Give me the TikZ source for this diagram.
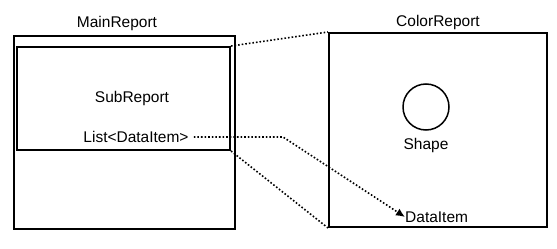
\documentclass[tikz,border=0pt]{standalone}
\usepackage{fontspec}
\setmainfont{Liberation Sans}
\usetikzlibrary{arrows.meta}
\begin{document}
\begin{tikzpicture}[x=1pt,y=-1pt,
  box/.style={draw,line width=2pt,rectangle,inner sep=0pt},
  lbl/.style={inner sep=0pt,font=\fontsize{15.5}{18}\selectfont},
  link/.style={dotted,line width=1.6pt}]
\useasboundingbox (0,0) rectangle (557,249);
\node[box,minimum width=221pt,minimum height=193pt] (main) at (124.5,132.5) {};
\node[box,minimum width=213pt,minimum height=103pt] (sub) at (123.5,98.5) {};
\node[box,minimum width=218pt,minimum height=194pt] (color) at (438,130) {};
\node[draw,circle,line width=1.5pt,minimum size=46pt,inner sep=0pt] (circ) at (426,107) {};
\node[lbl] (mainlbl) at (117,23) {MainReport};
\node[lbl] (sublbl) at (132,98) {SubReport};
\node[lbl] (list) at (136,137) {List<DataItem>};
\node[lbl] (colorlbl) at (438,22) {ColorReport};
\node[lbl] (shape) at (426,145) {Shape};
\node[lbl,anchor=west] (item) at (405,217) {DataItem};
\coordinate (bend) at (283,137);
\draw[link] (sub.north east) -- (color.north west);
\draw[link] (sub.south east) -- (color.south west);
\draw[link,-{Latex[length=9pt,width=8pt]}] ([xshift=5pt]list.east) -- (bend) -- (item.west);
\end{tikzpicture}
\end{document}
